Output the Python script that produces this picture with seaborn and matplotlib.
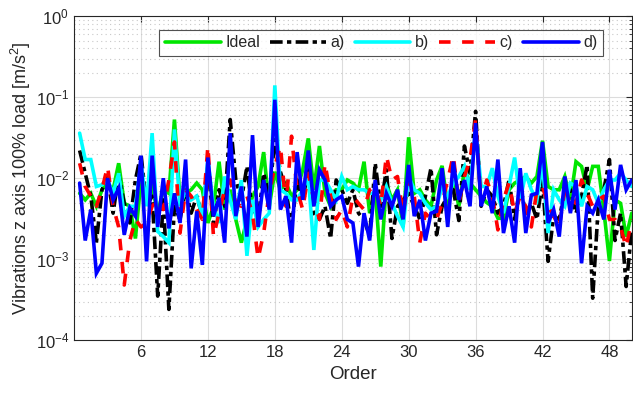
import numpy as np
import pandas as pd
import matplotlib
matplotlib.use("Agg")
import matplotlib.pyplot as plt
import seaborn as sns
from matplotlib.ticker import LogLocator, NullFormatter

# Orders 0.5 ... 50 in half-order steps
orders = np.arange(1, 101) / 2.0

ideal = [
    0.0065, 0.0054, 0.0065, 0.0045, 0.0072, 0.0087, 0.0072, 0.0153, 0.0049, 0.0045,
    0.0018, 0.0095, 0.0065, 0.0079, 0.0037, 0.0072, 0.0065, 0.053, 0.0054, 0.0065,
    0.0072, 0.0087, 0.0072, 0.0028, 0.0045, 0.016, 0.0041, 0.0072, 0.0031, 0.0016,
    0.0031, 0.0060, 0.0079, 0.021, 0.0045, 0.012, 0.0072, 0.0087, 0.0060, 0.0072,
    0.0127, 0.031, 0.0072, 0.025, 0.0065, 0.0045, 0.0072, 0.0072, 0.0095, 0.0087,
    0.0072, 0.016, 0.0037, 0.0072, 0.00081, 0.0087, 0.0054, 0.0072, 0.0025, 0.032,
    0.0065, 0.0072, 0.0054, 0.0045, 0.0095, 0.0142, 0.0045, 0.0095, 0.0045, 0.0127,
    0.0087, 0.0072, 0.0060, 0.0050, 0.0045, 0.0032, 0.0032, 0.0072, 0.0087, 0.0095,
    0.0105, 0.0087, 0.0105, 0.029, 0.0079, 0.0072, 0.0072, 0.0105, 0.0054, 0.016,
    0.014, 0.0072, 0.014, 0.014, 0.0040, 0.00095, 0.0054, 0.0049, 0.0019, 0.0037,
]

case_a = [
    0.022, 0.0115, 0.0060, 0.0016, 0.0072, 0.0105, 0.0037, 0.011, 0.0049, 0.0028,
    0.0095, 0.020, 0.0045, 0.0060, 0.00035, 0.0054, 0.00024, 0.0045, 0.0031, 0.0072,
    0.0037, 0.0060, 0.0034, 0.014, 0.0028, 0.0072, 0.0045, 0.053, 0.0095, 0.0054,
    0.014, 0.0037, 0.0031, 0.0115, 0.0060, 0.030, 0.012, 0.0072, 0.0025, 0.0095,
    0.0054, 0.0127, 0.0037, 0.0031, 0.0045, 0.0018, 0.0095, 0.0072, 0.0049, 0.0072,
    0.0037, 0.0031, 0.0019, 0.0153, 0.0045, 0.0127, 0.0018, 0.0045, 0.0054, 0.0065,
    0.0045, 0.0031, 0.0060, 0.0133, 0.0020, 0.0045, 0.0060, 0.0072, 0.0030, 0.025,
    0.0115, 0.067, 0.0045, 0.0072, 0.0060, 0.0037, 0.0045, 0.0095, 0.0031, 0.0079,
    0.0037, 0.0049, 0.0031, 0.0095, 0.00094, 0.0034, 0.0031, 0.0072, 0.0072, 0.0037,
    0.0060, 0.0146, 0.00033, 0.0045, 0.0072, 0.017, 0.0017, 0.0037, 0.00046, 0.0023,
]

case_b = [
    0.036, 0.017, 0.017, 0.0079, 0.0083, 0.0095, 0.0065, 0.0115, 0.0034, 0.0045,
    0.0045, 0.0153, 0.0045, 0.036, 0.0022, 0.0019, 0.0016, 0.040, 0.0045, 0.0072,
    0.0054, 0.0060, 0.0034, 0.017, 0.0045, 0.0028, 0.0105, 0.0054, 0.0031, 0.0095,
    0.0011, 0.0054, 0.0025, 0.0031, 0.0037, 0.14, 0.0072, 0.0065, 0.0054, 0.0054,
    0.0072, 0.0105, 0.0013, 0.0095, 0.0095, 0.0072, 0.0054, 0.0105, 0.0072, 0.0079,
    0.0072, 0.0072, 0.0065, 0.0065, 0.0054, 0.0079, 0.0049, 0.0034, 0.0025, 0.0105,
    0.0072, 0.0065, 0.0049, 0.0041, 0.0045, 0.0079, 0.0060, 0.0087, 0.0105, 0.014,
    0.0072, 0.041, 0.0079, 0.0079, 0.0133, 0.0060, 0.0037, 0.0079, 0.018, 0.0054,
    0.0115, 0.0072, 0.0054, 0.0153, 0.0021, 0.0072, 0.0054, 0.0045, 0.0087, 0.0079,
    0.0045, 0.0079, 0.0072, 0.0049, 0.0072, 0.0095, 0.0095, 0.0115, 0.0095, 0.0079,
]

case_c = [
    0.0153, 0.0079, 0.0060, 0.0045, 0.0072, 0.014, 0.0045, 0.0025, 0.00048, 0.0017,
    0.0031, 0.0025, 0.0028, 0.0045, 0.0054, 0.0041, 0.0095, 0.028, 0.0021, 0.0072,
    0.0060, 0.0041, 0.0031, 0.025, 0.0019, 0.0037, 0.0072, 0.0095, 0.0049, 0.0045,
    0.0060, 0.0037, 0.00102, 0.0021, 0.0065, 0.014, 0.025, 0.0045, 0.033, 0.0072,
    0.0041, 0.0115, 0.0054, 0.0031, 0.0153, 0.0060, 0.0031, 0.0041, 0.0025, 0.0060,
    0.0049, 0.0041, 0.0072, 0.0079, 0.0045, 0.019, 0.0095, 0.0105, 0.0037, 0.0095,
    0.0060, 0.0016, 0.0037, 0.0031, 0.0031, 0.0049, 0.0095, 0.019, 0.0049, 0.0105,
    0.017, 0.053, 0.0049, 0.0095, 0.0060, 0.0023, 0.0054, 0.0087, 0.0037, 0.0060,
    0.0045, 0.0025, 0.0072, 0.0079, 0.0045, 0.0034, 0.0025, 0.0072, 0.0054, 0.0049,
    0.0095, 0.0065, 0.0045, 0.0054, 0.0060, 0.0031, 0.0031, 0.0025, 0.0014, 0.0031,
]

case_d = [
    0.0087, 0.0017, 0.0041, 0.00067, 0.00089, 0.0100, 0.0054, 0.0075, 0.0020, 0.0043,
    0.0034, 0.019, 0.00094, 0.019, 0.0025, 0.0100, 0.0024, 0.0065, 0.0028, 0.017,
    0.00077, 0.0039, 0.00085, 0.018, 0.0034, 0.0057, 0.0016, 0.036, 0.0034, 0.0079,
    0.0019, 0.034, 0.0025, 0.0095, 0.0041, 0.093, 0.0041, 0.0060, 0.0016, 0.021,
    0.0054, 0.022, 0.0045, 0.0127, 0.0095, 0.0045, 0.0054, 0.0060, 0.0031, 0.0028,
    0.00081, 0.0037, 0.0017, 0.0095, 0.0031, 0.0065, 0.0045, 0.0072, 0.0031, 0.0146,
    0.0034, 0.0054, 0.0017, 0.0037, 0.0039, 0.0133, 0.0025, 0.016, 0.0054, 0.0095,
    0.0045, 0.048, 0.0045, 0.0079, 0.0037, 0.017, 0.0021, 0.0045, 0.0016, 0.0133,
    0.0021, 0.0062, 0.0065, 0.028, 0.0028, 0.0041, 0.0019, 0.0105, 0.0037, 0.0095,
    0.00089, 0.0045, 0.0037, 0.0054, 0.0031, 0.0127, 0.0041, 0.0146, 0.0072, 0.0095,
]

labels = ["Ideal", "a)", "b)", "c)", "d)"]
series = [ideal, case_a, case_b, case_c, case_d]
colors = ["#00e600", "#000000", "#00ffff", "#ff0000", "#0000ff"]
styles = ["-", (0, (3.5, 1.2, 1.2, 1.2)), "-", (0, (3.2, 3.2)), "-"]

sns.set_style("white")
plt.rcParams["font.family"] = ["Liberation Sans", "DejaVu Sans"]
plt.rcParams["mathtext.fontset"] = "custom"
plt.rcParams["mathtext.rm"] = "Liberation Sans"
plt.rcParams["mathtext.it"] = "Liberation Sans:italic"

fig = plt.figure(figsize=(6.33, 3.96), dpi=100)
ax = fig.add_axes([0.117, 0.141, 0.881, 0.818])

for lab, vals, col, ls in zip(labels, series, colors, styles):
    df = pd.DataFrame({"Order": orders, "Value": vals})
    sns.lineplot(data=df, x="Order", y="Value", ax=ax, color=col,
                 linewidth=2.6, linestyle=ls, label=lab, solid_joinstyle="miter",
                 dash_capstyle="butt")

ax.set_yscale("log")
ax.set_xlim(0, 50)
ax.set_ylim(1e-4, 1)
ax.set_xticks([6, 12, 18, 24, 30, 36, 42, 48])
ax.yaxis.set_major_locator(LogLocator(base=10, numticks=10))
ax.yaxis.set_minor_locator(LogLocator(base=10, subs=np.arange(2, 10), numticks=20))
ax.yaxis.set_minor_formatter(NullFormatter())

ax.grid(True, which="major", axis="both", color="#dcdcdc", linewidth=0.8, linestyle="-")
ax.grid(True, which="minor", axis="y", color="#c8c8c8", linewidth=0.8, linestyle=(0, (1, 3)))
ax.set_axisbelow(True)

for sp in ax.spines.values():
    sp.set_color("#262626")
    sp.set_linewidth(0.8)

ax.tick_params(axis="both", which="both", direction="in", top=True, right=True,
               colors="#262626", labelsize=12)
ax.tick_params(which="major", length=4)
ax.tick_params(which="minor", length=2.5)

ax.set_xlabel("Order", fontsize=13.5, color="#262626")
ax.set_ylabel("Vibrations z axis 100% load [m/s$^2$]", fontsize=13, color="#262626", labelpad=2)

leg = ax.legend(loc="upper center", bbox_to_anchor=(0.551, 0.958), ncol=5,
                fontsize=11.5, frameon=True, fancybox=False, edgecolor="#262626",
                handlelength=3.5, handletextpad=0.3, columnspacing=0.6,
                borderpad=0.35, borderaxespad=0)
leg.get_frame().set_linewidth(0.8)

fig.savefig("out.png", dpi=100, facecolor="white")
